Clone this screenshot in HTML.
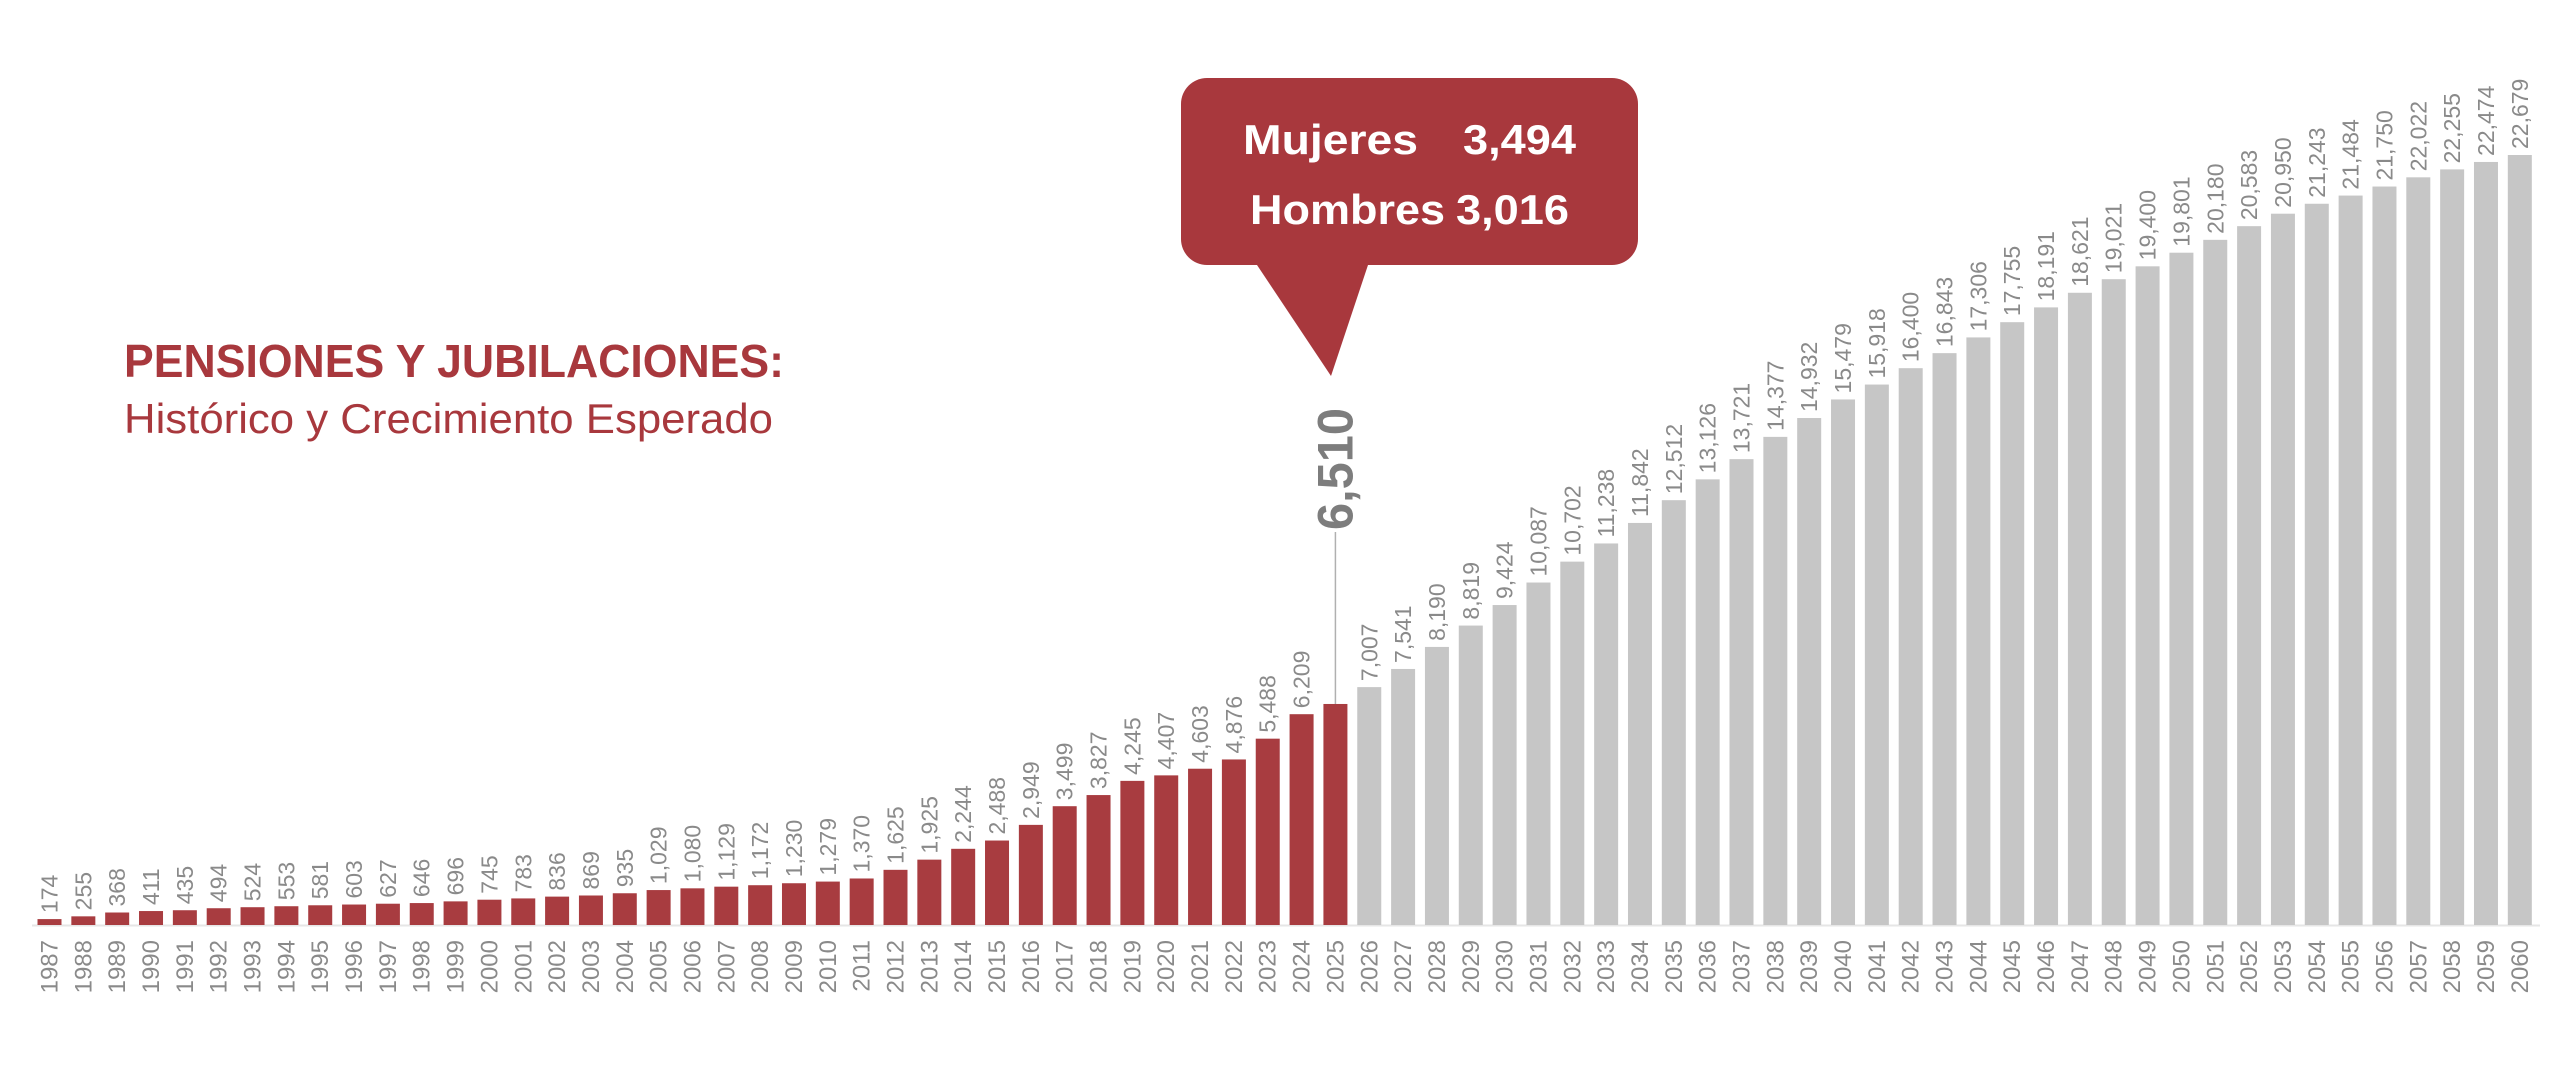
<!DOCTYPE html>
<html><head><meta charset="utf-8"><style>
html,body{margin:0;padding:0;background:#fff;}
svg{display:block;font-family:"Liberation Sans",sans-serif;}
</style></head><body>
<svg id="chart" width="2560" height="1087" viewBox="0 0 2560 1087" xmlns="http://www.w3.org/2000/svg">
<text x="124" y="377" font-size="46" font-weight="bold" fill="#a8383d" textLength="660" lengthAdjust="spacingAndGlyphs">PENSIONES Y JUBILACIONES:</text>
<text x="124" y="433" font-size="42" fill="#a8383d" textLength="649" lengthAdjust="spacingAndGlyphs">Histórico y Crecimiento Esperado</text>
<line x1="32" y1="925.5" x2="2540" y2="925.5" stroke="#e6e6e6" stroke-width="2"/>
<g id="bars"></g>
<g>
<rect x="1181" y="78" width="457" height="187" rx="26" fill="#a8383d"/>
<polygon points="1255,262 1369,262 1331,376" fill="#a8383d"/>
<text x="1243" y="154" font-size="42" font-weight="bold" fill="#fff" textLength="175" lengthAdjust="spacingAndGlyphs">Mujeres</text>
<text x="1576" y="154" font-size="42" font-weight="bold" fill="#fff" text-anchor="end" textLength="113" lengthAdjust="spacingAndGlyphs">3,494</text>
<text x="1250" y="224" font-size="42" font-weight="bold" fill="#fff" textLength="195" lengthAdjust="spacingAndGlyphs">Hombres</text>
<text x="1569" y="224" font-size="42" font-weight="bold" fill="#fff" text-anchor="end" textLength="113" lengthAdjust="spacingAndGlyphs">3,016</text>
</g>
</svg>
<script>
const years = [];
for (let y = 1987; y <= 2060; y++) years.push(y);
const values = [174,255,368,411,435,494,524,553,581,603,627,646,696,745,783,836,869,935,1029,1080,1129,1172,1230,1279,1370,1625,1925,2244,2488,2949,3499,3827,4245,4407,4603,4876,5488,6209,6510,
7007,7541,8190,8819,9424,10087,10702,11238,11842,12512,13126,13721,14377,14932,15479,15918,16400,16843,17306,17755,18191,18621,19021,19400,19801,20180,20583,20950,21243,21484,21750,22022,22255,22474,22679];
const lastHistoricYear = 2025;

const NS = "http://www.w3.org/2000/svg";
const baseY = 925, x0 = 49.5, pitch = 33.84, bw = 24;
const maxV = 22679, maxH = 770;
const xScale = i => x0 + i * pitch;
const yScale = v => baseY - v / maxV * maxH;
const g = document.getElementById('bars');
function mk(tag, attrs) {
  const e = document.createElementNS(NS, tag);
  for (const k in attrs) e.setAttribute(k, attrs[k]);
  return e;
}
values.forEach((v, i) => {
  const cx = xScale(i), top = yScale(v), yr = years[i];
  const hist = yr <= lastHistoricYear;
  const r = mk('rect', {x: cx - bw/2, y: top, width: bw, height: baseY - top, fill: hist ? '#a83c40' : '#c6c6c6'});
  
  
  g.appendChild(r);
  const yl = mk('text', {x: 0, y: 0, 'font-size': 24, fill: '#8a8a8a', 'text-anchor': 'end', transform: `translate(${cx + 8},940) rotate(-90)`});
  yl.textContent = yr;
  
  
  g.appendChild(yl);
  if (yr === lastHistoricYear) {
    const ln = mk('line', {x1: cx, y1: top, x2: cx, y2: 532, stroke: '#b0b0b0', 'stroke-width': 1.5});
    
    
    g.appendChild(ln);
    const big = mk('text', {x: 0, y: 0, 'font-size': 50, 'font-weight': 'bold', fill: '#7d7d7d', transform: `translate(${cx + 17},530) rotate(-90)`, textLength: 122, lengthAdjust: 'spacingAndGlyphs'});
    big.textContent = v.toLocaleString('en-US');
    
    
    g.appendChild(big);
  } else {
    const vl = mk('text', {x: 0, y: 0, 'font-size': 23, fill: '#8a8a8a', transform: `translate(${cx + 8},${top - 6}) rotate(-90)`});
    vl.textContent = v.toLocaleString('en-US');
    
    
    g.appendChild(vl);
  }
});
</script>
</body></html>
